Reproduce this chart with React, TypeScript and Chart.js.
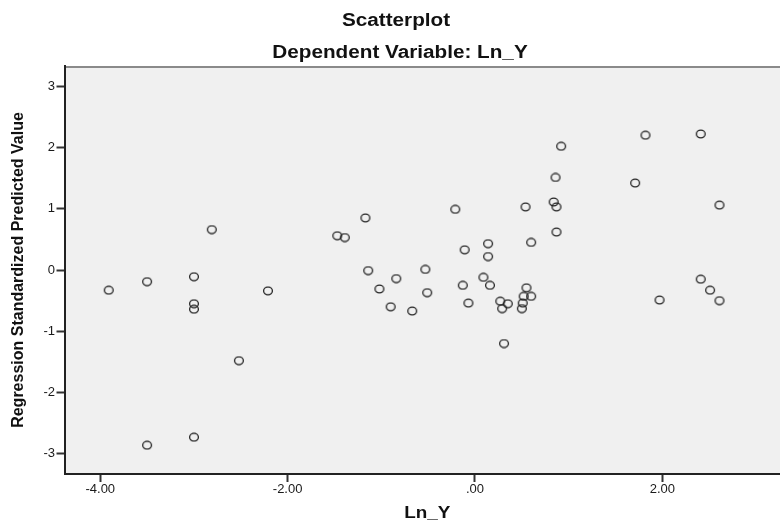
import React, { useEffect, useRef } from "react";
import { Chart, registerables } from "chart.js";

Chart.register(...registerables);

// Ln_Y (x) and Regression Standardized Predicted Value (y)
const LN_Y = [
  -3.91, -3.5, -3.5, -3.0, -3.0, -3.0, -3.0, -2.81, -2.52, -2.21,
  -1.47, -1.39, -1.17, -1.14, -1.02, -0.84, -0.9, -0.67, -0.53, -0.51,
  -0.21, -0.11, -0.13, -0.07, 0.09, 0.14, 0.14, 0.16, 0.27, 0.29,
  0.35, 0.31, 0.54, 0.6, 0.55, 0.52, 0.6, 0.51, 0.5, 0.84,
  0.87, 0.86, 0.87, 0.92, 1.71, 1.82, 1.97, 2.41, 2.41, 2.51,
  2.61, 2.61,
];
const PREDICTED = [
  -0.33, -0.19, -2.86, -0.11, -0.55, -0.64, -2.73, 0.66, -1.48, -0.34,
  0.56, 0.53, 0.85, -0.01, -0.31, -0.14, -0.6, -0.67, 0.01, -0.37,
  0.99, 0.33, -0.25, -0.54, -0.12, 0.43, 0.22, -0.25, -0.51, -0.63,
  -0.55, -1.2, 1.03, 0.45, -0.29, -0.43, -0.43, -0.54, -0.63, 1.11,
  1.03, 1.51, 0.62, 2.02, 1.42, 2.2, -0.49, 2.22, -0.15, -0.33,
  1.06, -0.5,
];
const X_TICKS = [-4, -2, 0, 2];
const Y_TICKS = [-3, -2, -1, 0, 1, 2, 3];
const TITLE = "Scatterplot";
const SUBTITLE = "Dependent Variable: Ln_Y";
const X_TITLE = "Ln_Y";
const Y_TITLE = "Regression Standardized Predicted Value";

const FONT = "'Liberation Sans', Arial, sans-serif";

function fmtX(v: number): string {
  const s = Number(v).toFixed(2);
  return s.replace(/^(-?)0\./, "$1.");
}

function makeMarker(): HTMLCanvasElement {
  const c = document.createElement("canvas");
  c.width = 12;
  c.height = 10;
  const g = c.getContext("2d")!;
  g.strokeStyle = "#222222";
  g.lineWidth = 1.3;
  g.beginPath();
  g.ellipse(6, 5, 4.4, 3.8, 0, 0, Math.PI * 2);
  g.stroke();
  return c;
}

function stretchedText(ctx: CanvasRenderingContext2D, text: string, x: number, y: number, sx: number) {
  ctx.save();
  ctx.translate(x, y);
  ctx.scale(sx, 1);
  ctx.fillText(text, 0, 0);
  ctx.restore();
}

const framePlugin = {
  id: "spssFrame",
  beforeDraw(chart: any) {
    const { ctx, chartArea: a } = chart;
    ctx.save();
    ctx.fillStyle = "#f0f0f0";
    ctx.fillRect(a.left, a.top, a.right - a.left, a.bottom - a.top);
    ctx.strokeStyle = "#8a8a8a";
    ctx.lineWidth = 2;
    ctx.beginPath();
    ctx.moveTo(a.left, a.top + 1);
    ctx.lineTo(a.right, a.top + 1);
    ctx.stroke();
    ctx.restore();
  },
  afterDraw(chart: any) {
    const { ctx, chartArea: a } = chart;
    ctx.save();
    ctx.fillStyle = "#111111";
    ctx.textAlign = "center";
    ctx.textBaseline = "middle";
    ctx.font = `bold 18px ${FONT}`;
    stretchedText(ctx, TITLE, 396, 21, 1.15);
    stretchedText(ctx, SUBTITLE, 400, 53, 1.15);
    ctx.font = `bold 16px ${FONT}`;
    stretchedText(ctx, X_TITLE, (a.left + a.right) / 2, 514, 1.18);
    ctx.save();
    ctx.translate(19, (a.top + a.bottom) / 2);
    ctx.rotate(-Math.PI / 2);
    ctx.font = `bold 16px ${FONT}`;
    ctx.fillText(Y_TITLE, 0, 0);
    ctx.restore();
    ctx.restore();
  },
};

export default function App() {
  const ref = useRef<HTMLCanvasElement | null>(null);

  useEffect(() => {
    if (!ref.current) return;
    const marker = makeMarker();
    const points = LN_Y.map((x, i) => ({ x, y: PREDICTED[i] }));
    const chart = new Chart(ref.current, {
      type: "scatter",
      data: {
        datasets: [
          {
            data: points,
            pointStyle: marker as any,
            pointRadius: 4,
            pointHoverRadius: 4,
          },
        ],
      },
      options: {
        animation: false,
        responsive: false,
        events: [],
        layout: { padding: { top: 66, right: 10, left: 0, bottom: 0 } },
        plugins: {
          legend: { display: false },
          tooltip: { enabled: false },
          title: { display: false },
        },
        scales: {
          x: {
            type: "linear",
            min: -4.382,
            max: 3.363,
            afterBuildTicks: (s: any) => {
              s.ticks = X_TICKS.map((v) => ({ value: v }));
            },
            afterFit: (s: any) => {
              s.height = 50;
            },
            grid: {
              drawOnChartArea: false,
              drawTicks: true,
              tickLength: 8,
              tickColor: "#333333",
              tickWidth: 2,
            },
            border: { display: true, color: "#222222", width: 2 },
            ticks: {
              callback: (v: any) => fmtX(v),
              font: { family: FONT, size: 13 },
              color: "#1a1a1a",
              padding: 0,
              maxRotation: 0,
              autoSkip: false,
            },
          },
          y: {
            type: "linear",
            min: -3.33,
            max: 3.33,
            afterBuildTicks: (s: any) => {
              s.ticks = Y_TICKS.map((v) => ({ value: v }));
            },
            afterFit: (s: any) => {
              s.width = 64.5;
            },
            grid: {
              drawOnChartArea: false,
              drawTicks: true,
              tickLength: 8,
              tickColor: "#333333",
              tickWidth: 2,
            },
            border: { display: true, color: "#222222", width: 2 },
            ticks: {
              callback: (v: any) => String(v),
              font: { family: FONT, size: 13 },
              color: "#1a1a1a",
              padding: 1.5,
              autoSkip: false,
            },
          },
        },
      },
      plugins: [framePlugin],
    });
    return () => chart.destroy();
  }, []);

  return (
    <div
      style={{
        position: "fixed",
        left: 0,
        top: 0,
        width: 780,
        height: 524,
        overflow: "hidden",
        background: "#ffffff",
      }}
    >
      <canvas ref={ref} width={800} height={524} style={{ width: 800, height: 524, display: "block" }} />
    </div>
  );
}
